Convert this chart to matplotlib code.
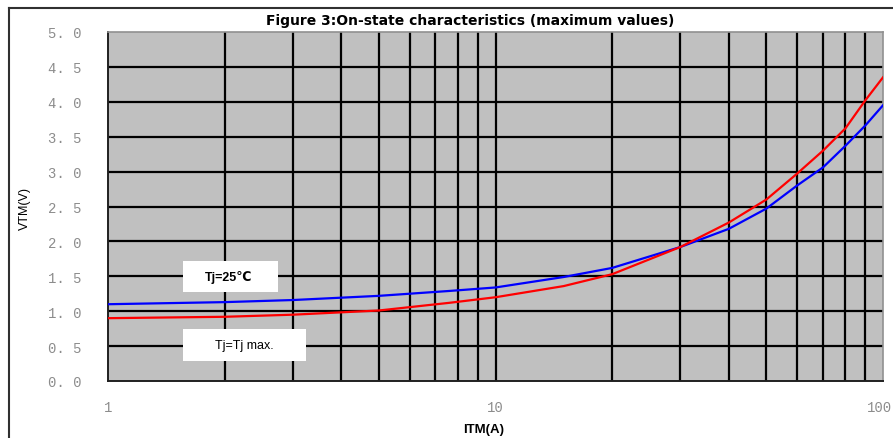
import matplotlib
matplotlib.use("Agg")
import matplotlib.pyplot as plt
import matplotlib.transforms as mtransforms
from matplotlib.lines import Line2D
from matplotlib.patches import Rectangle
from matplotlib.ticker import FixedLocator, NullFormatter

# ---- data ----
itm = [1, 2, 3, 5, 7.6, 10, 15, 20, 30, 40, 50, 60, 70, 80, 90, 100]
vtm_25 = [1.10, 1.13, 1.16, 1.22, 1.29, 1.34, 1.49, 1.62, 1.92, 2.18, 2.47, 2.80, 3.06, 3.37, 3.66, 3.95]
vtm_max = [0.90, 0.92, 0.95, 1.01, 1.12, 1.20, 1.36, 1.53, 1.92, 2.27, 2.60, 2.97, 3.30, 3.62, 4.02, 4.35]
yticks = [0.0, 0.5, 1.0, 1.5, 2.0, 2.5, 3.0, 3.5, 4.0, 4.5, 5.0]
ytick_labels = ["0. 0", "0. 5", "1. 0", "1. 5", "2. 0", "2. 5", "3. 0", "3. 5", "4. 0", "4. 5", "5. 0"]
xticks = [1, 10, 100]
xtick_labels = ["1", "10", "100"]
xgrid = [2, 3, 4, 5, 6, 7, 8, 9, 10, 20, 30, 40, 50, 60, 70, 80, 90]
title = "Figure 3:On-state characteristics (maximum values)"
label_25 = "Tj=25\u2103"
label_max = "Tj=Tj max."

W, H = 893, 439
fig = plt.figure(figsize=(W / 100, H / 100), dpi=100)
fig.patch.set_facecolor("white")

def fx(px):
    return px / W

def fy(py):
    return 1 - py / H

ax = fig.add_axes([fx(108), fy(382), fx(883) - fx(108), fy(33) - fy(382)])
ax.set_facecolor("#C0C0C0")
ax.set_xscale("log")
ax.set_xlim(1, 100)
ax.set_ylim(0, 5)

# grid
for g in xgrid:
    ax.axvline(g, color="black", lw=1.6, zorder=1)
for y in yticks[1:-1]:
    ax.axhline(y, color="black", lw=1.6, zorder=1)

ax.plot(itm, vtm_25, color="#0000FF", lw=1.6, zorder=3)
ax.plot(itm, vtm_max, color="#FF0000", lw=1.6, zorder=3)

for s in ["top", "right"]:
    ax.spines[s].set_color("#909090")
    ax.spines[s].set_linewidth(1.2)
for s in ["left", "bottom"]:
    ax.spines[s].set_color("#202020")
    ax.spines[s].set_linewidth(1.4)

ax.yaxis.set_major_locator(FixedLocator(yticks))
ax.set_yticklabels(ytick_labels)
ax.xaxis.set_major_locator(FixedLocator(xticks))
ax.xaxis.set_minor_formatter(NullFormatter())
ax.set_xticklabels(xtick_labels)
ax.tick_params(axis="both", which="both", length=0)
ax.tick_params(axis="y", pad=19, labelsize=10, labelcolor="#8C8C8C")
ax.tick_params(axis="x", pad=14, labelsize=10, labelcolor="#8C8C8C")
for lab in ax.get_xticklabels() + ax.get_yticklabels():
    lab.set_family("Liberation Mono")
# keep the last x label inside the image
last = ax.get_xticklabels()[-1]
last.set_transform(last.get_transform() +
                   mtransforms.ScaledTranslation(-4 / 100, 0, fig.dpi_scale_trans))

# titles and axis labels
fig.text(fx(470), fy(21), title, ha="center", va="center", fontsize=10,
         fontweight="bold", family="DejaVu Sans")
fig.text(fx(25), fy(209), "VTM(V)", ha="center", va="center", rotation=90,
         fontsize=9, family="Liberation Sans")
fig.text(fx(484), fy(430), "ITM(A)", ha="center", va="center", fontsize=9.5,
         fontweight="bold", family="Liberation Sans")

# annotation boxes
fig.patches.append(Rectangle((fx(183), fy(293)), fx(278) - fx(183), fy(262) - fy(293),
                             transform=fig.transFigure, facecolor="white",
                             edgecolor="none", zorder=5))
fig.patches.append(Rectangle((fx(183), fy(362)), fx(306) - fx(183), fy(330) - fy(362),
                             transform=fig.transFigure, facecolor="white",
                             edgecolor="none", zorder=5))
fig.text(fx(229), fy(277), label_25, ha="center", va="center", fontsize=9,
         fontweight="bold", family=["Liberation Sans", "DejaVu Sans"], zorder=6)
fig.text(fx(244), fy(346), label_max, ha="center", va="center", fontsize=9,
         family=["Liberation Sans", "DejaVu Sans"], zorder=6)

# outer chart-area border (top and left)
fig.add_artist(Line2D([fx(9), fx(9)], [fy(439), fy(9)], transform=fig.transFigure,
                      color="#303030", lw=1.5))
fig.add_artist(Line2D([fx(9), fx(893)], [fy(9), fy(9)], transform=fig.transFigure,
                      color="#303030", lw=1.5))

fig.savefig("out.png", dpi=100)
